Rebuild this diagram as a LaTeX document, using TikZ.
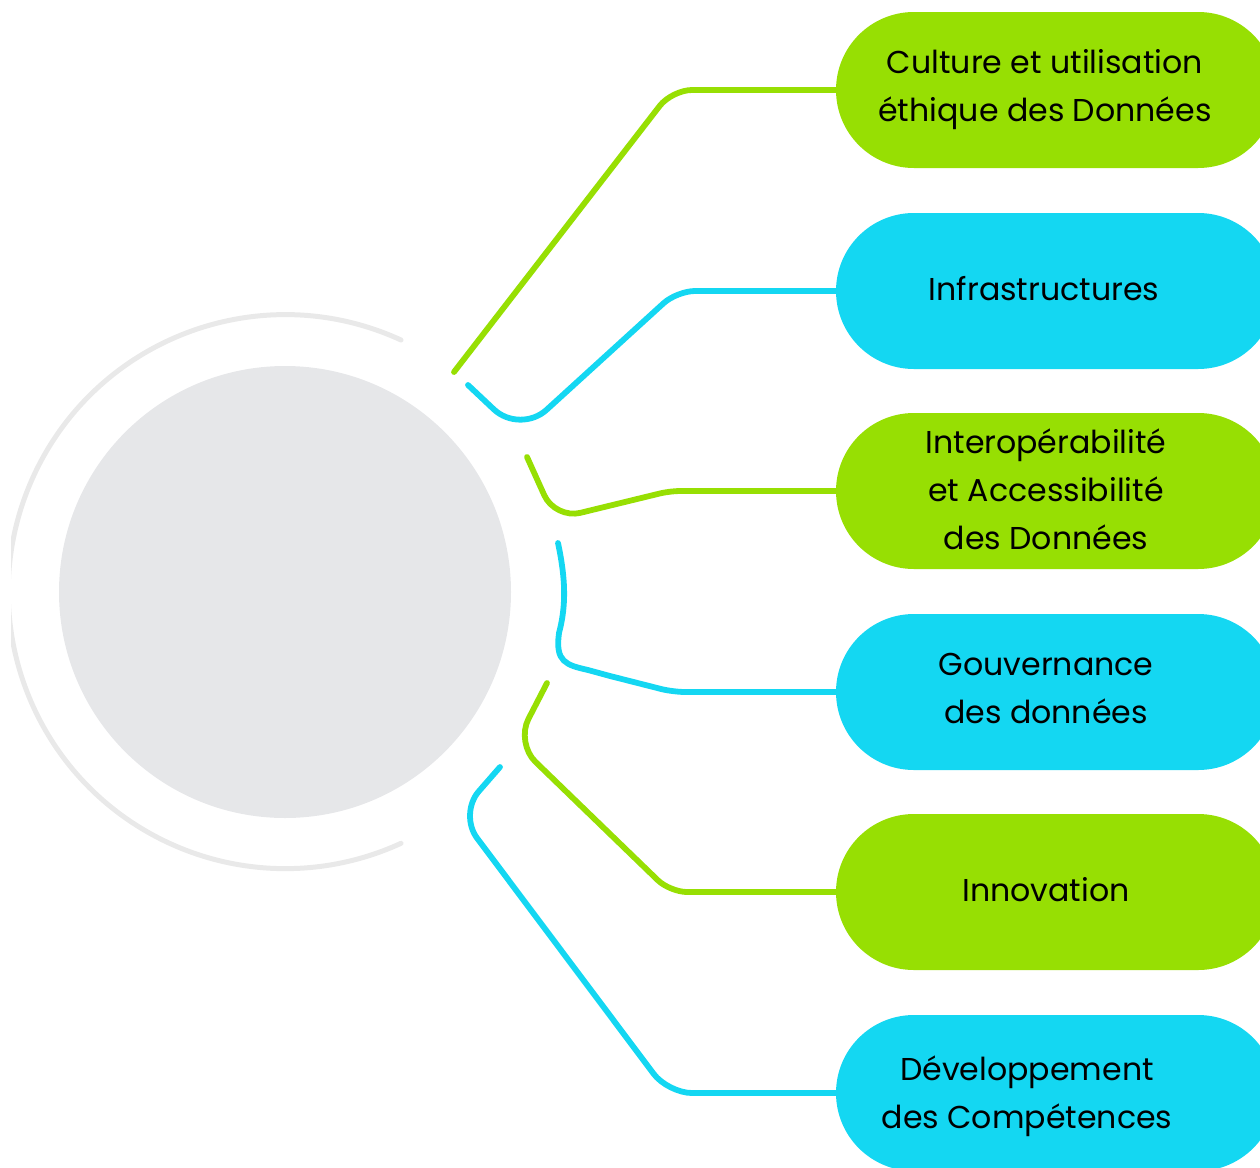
\documentclass[tikz,border=0pt]{standalone}
\usepackage{fontspec}
\setmainfont{Poppins}
\definecolor{lime}{HTML}{97DF03}
\definecolor{sky}{HTML}{14D7F2}
\definecolor{disc}{HTML}{E6E7E9}
\definecolor{ring}{HTML}{E9E9E9}
\begin{document}
\begin{tikzpicture}[x=1pt,y=-1pt,
  pill/.style={minimum width=440pt,minimum height=156pt,rounded corners=77.9pt,inner sep=0pt},
  lbl/.style={align=center,font=\fontsize{31.6}{48}\selectfont,text=black,inner sep=0pt},
  gline/.style={draw=lime,line width=5.8pt,line cap=round},
  bline/.style={draw=sky,line width=5.8pt,line cap=round}]
\useasboundingbox (0,0) rectangle (1260,1167);
\clip (0,0) rectangle (1260,1167);
% ring and disc
\begin{scope}
\clip (11,0) rectangle (1260,1167);
\draw[ring,line width=5pt,line cap=round] (401,340) arc[start angle=65.3,end angle=294.7,radius=277pt];
\end{scope}
\fill[disc] (285,592) circle[radius=226pt];
% pills
\node[pill,fill=lime] (p1) at (1056,90) {};
\node[pill,fill=sky]  (p2) at (1056,291) {};
\node[pill,fill=lime] (p3) at (1056,491) {};
\node[pill,fill=sky]  (p4) at (1056,692) {};
\node[pill,fill=lime] (p5) at (1056,892) {};
\node[pill,fill=sky]  (p6) at (1056,1093) {};
% labels
\node[lbl] (t1) at (1045,90) {Culture et utilisation\\éthique des Données};
\node[lbl] (t2) at (1044,289) {Infrastructures};
\node[lbl] (t3) at (1046,489) {Interopérabilité\\et Accessibilité\\des Données};
\node[lbl] (t4) at (1046,688) {Gouvernance\\des données};
\node[lbl] (t5) at (1046,890) {Innovation};
\node[lbl] (t6) at (1027,1096) {Développement\\des Compétences};
% connectors
\coordinate (s1) at (454,372);
\coordinate (s2) at (468,385);
\coordinate (s3) at (527,457);
\coordinate (s4) at (558,543);
\coordinate (s5) at (547,683);
\coordinate (s6) at (500,767);
\draw[gline,rounded corners=20pt] (s1) -- (672,90) -- (p1.west);
\draw[bline] (s2) [rounded corners=36pt] -- (520,434) [rounded corners=18pt] -- (677,291) -- (p2.west);
\draw[gline] (s3) [rounded corners=26pt] -- (555,519) [rounded corners=10pt] -- (670,491) -- (p3.west);
\draw[bline] (s4) .. controls (567,585) and (565,610) .. (559,633)
   .. controls (555,662) and (566,665) .. (588,670) -- (610,676)
   [rounded corners=12pt] -- (673,692) -- (p4.west);
\draw[gline] (s5) [rounded corners=27pt] -- (516,743) [rounded corners=17pt] -- (670,892) -- (p5.west);
\draw[bline] (s6) [rounded corners=30pt] -- (459,814) [rounded corners=24pt] -- (668,1093) -- (p6.west);
\end{tikzpicture}
\end{document}
